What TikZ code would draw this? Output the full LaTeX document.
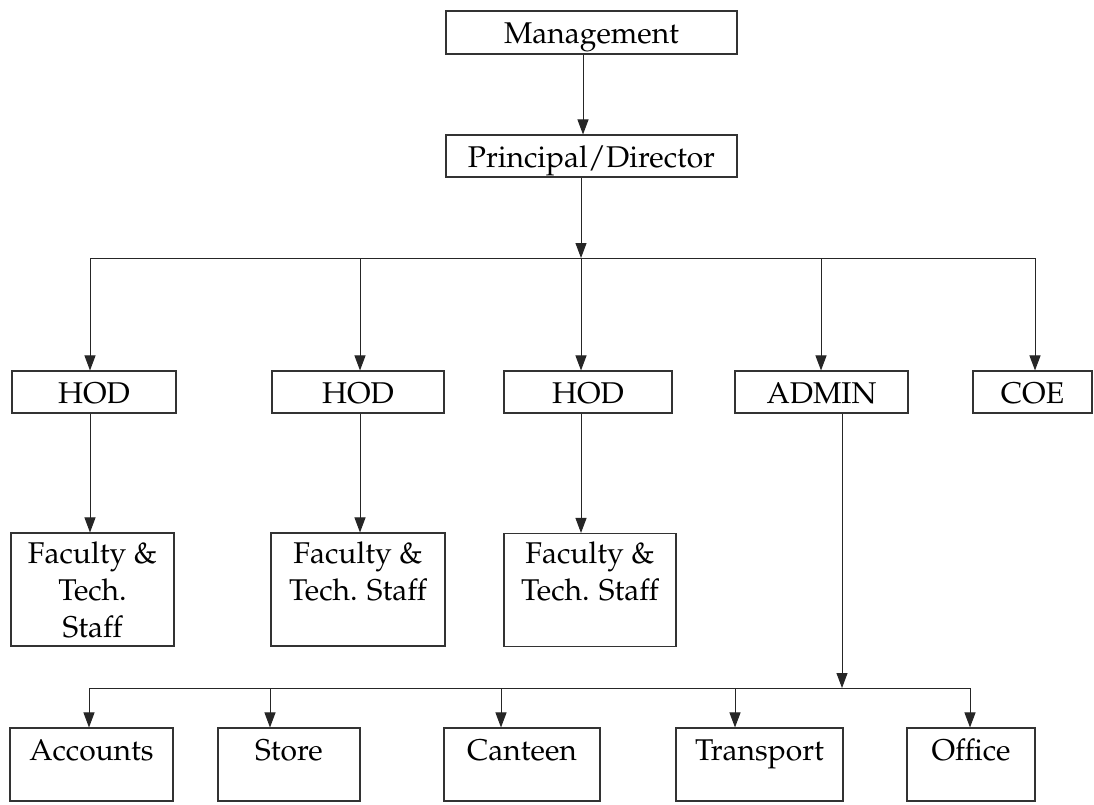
\documentclass[tikz,border=0pt]{standalone}
\usepackage[T1]{fontenc}
\usepackage{mathpazo}
\usetikzlibrary{arrows.meta}
\begin{document}
\begin{tikzpicture}[x=1pt,y=-1pt,
  font=\fontsize{30}{37}\selectfont,
  box/.style={draw=black!80, line width=1.1pt, inner sep=0pt, text height=22pt, text depth=0pt},
  mbox/.style={draw=black!80, line width=1.1pt, inner sep=0pt, align=center},
  tbox/.style={draw=black!80, line width=1.1pt, inner sep=0pt, text height=32pt, text depth=41pt},
  conn/.style={draw=black!85, line width=1pt},
  arr/.style={conn, -{Triangle[length=15pt,width=11pt]}}]
\useasboundingbox[fill=white] (0,0) rectangle (1094,804);

% top
\node[box, minimum width=291pt, minimum height=43pt] (mgmt) at (591.5,32.5) {Management};
\node[box, minimum width=291pt, minimum height=42pt] (prin) at (591.5,156) {Principal/Director};

% second level
\node[box, minimum width=164pt, minimum height=42pt] (hod1) at (94,392) {HOD};
\node[box, minimum width=172pt, minimum height=42pt] (hod2) at (358,392) {HOD};
\node[box, minimum width=168pt, minimum height=42pt] (hod3) at (588,392) {HOD};
\node[box, minimum width=173pt, minimum height=42pt] (admin) at (821.5,392) {ADMIN};
\node[box, minimum width=119pt, minimum height=42pt] (coe) at (1032.5,392) {COE};

% faculty
\node[mbox, minimum width=163pt, minimum height=113pt] (fac1) at (92.5,589.5) {Faculty \&\\Tech.\\Staff};
\node[mbox, minimum width=174pt, minimum height=113pt] (fac2) at (358,589.5) {Faculty \&\\Tech. Staff\\\mbox{}};
\node[mbox, minimum width=172pt, minimum height=113pt] (fac3) at (590,590) {Faculty \&\\Tech. Staff\\\mbox{}};

% bottom level
\node[tbox, minimum width=163pt] (acc) at (91.5,764.5) {Accounts};
\node[tbox, minimum width=142pt] (store) at (289,764.5) {Store};
\node[tbox, minimum width=156pt] (cant) at (522,764.5) {Canteen};
\node[tbox, minimum width=167pt] (trans) at (759.5,764.5) {Transport};
\node[tbox, minimum width=128pt] (office) at (971,764.5) {Office};

% coordinates of the connector lines
\coordinate (mx) at (583,0);
\coordinate (b1L) at (90,258);
\coordinate (b1h) at (360,258);
\coordinate (b1P) at (581,258);
\coordinate (b1a) at (821,258);
\coordinate (b1R) at (1035,258);
\coordinate (b2L) at (89,688);
\coordinate (b2s) at (270,688);
\coordinate (b2c) at (501,688);
\coordinate (b2P) at (842,688);
\coordinate (b2t) at (735,688);
\coordinate (b2R) at (970,688);

% connectors
\draw[arr] (mgmt.south -| mx) -- (prin.north -| mx);
\draw[arr] (prin.south -| b1P) -- (b1P);
\draw[conn] (b1L) -- (b1R);
\draw[arr] (b1L) -- (hod1.north -| b1L);
\draw[arr] (b1h) -- (hod2.north -| b1h);
\draw[arr] (b1P) -- (hod3.north -| b1P);
\draw[arr] (b1a) -- (admin.north -| b1a);
\draw[arr] (b1R) -- (coe.north -| b1R);

\draw[arr] (hod1.south -| b1L) -- (fac1.north -| b1L);
\draw[arr] (hod2.south -| b1h) -- (fac2.north -| b1h);
\draw[arr] (hod3.south -| b1P) -- (fac3.north -| b1P);

\draw[arr] (admin.south -| b2P) -- (b2P);
\draw[conn] (b2L) -- (b2R);
\draw[arr] (b2L) -- (acc.north -| b2L);
\draw[arr] (b2s) -- (store.north -| b2s);
\draw[arr] (b2c) -- (cant.north -| b2c);
\draw[arr] (b2t) -- (trans.north -| b2t);
\draw[arr] (b2R) -- (office.north -| b2R);
\end{tikzpicture}
\end{document}
